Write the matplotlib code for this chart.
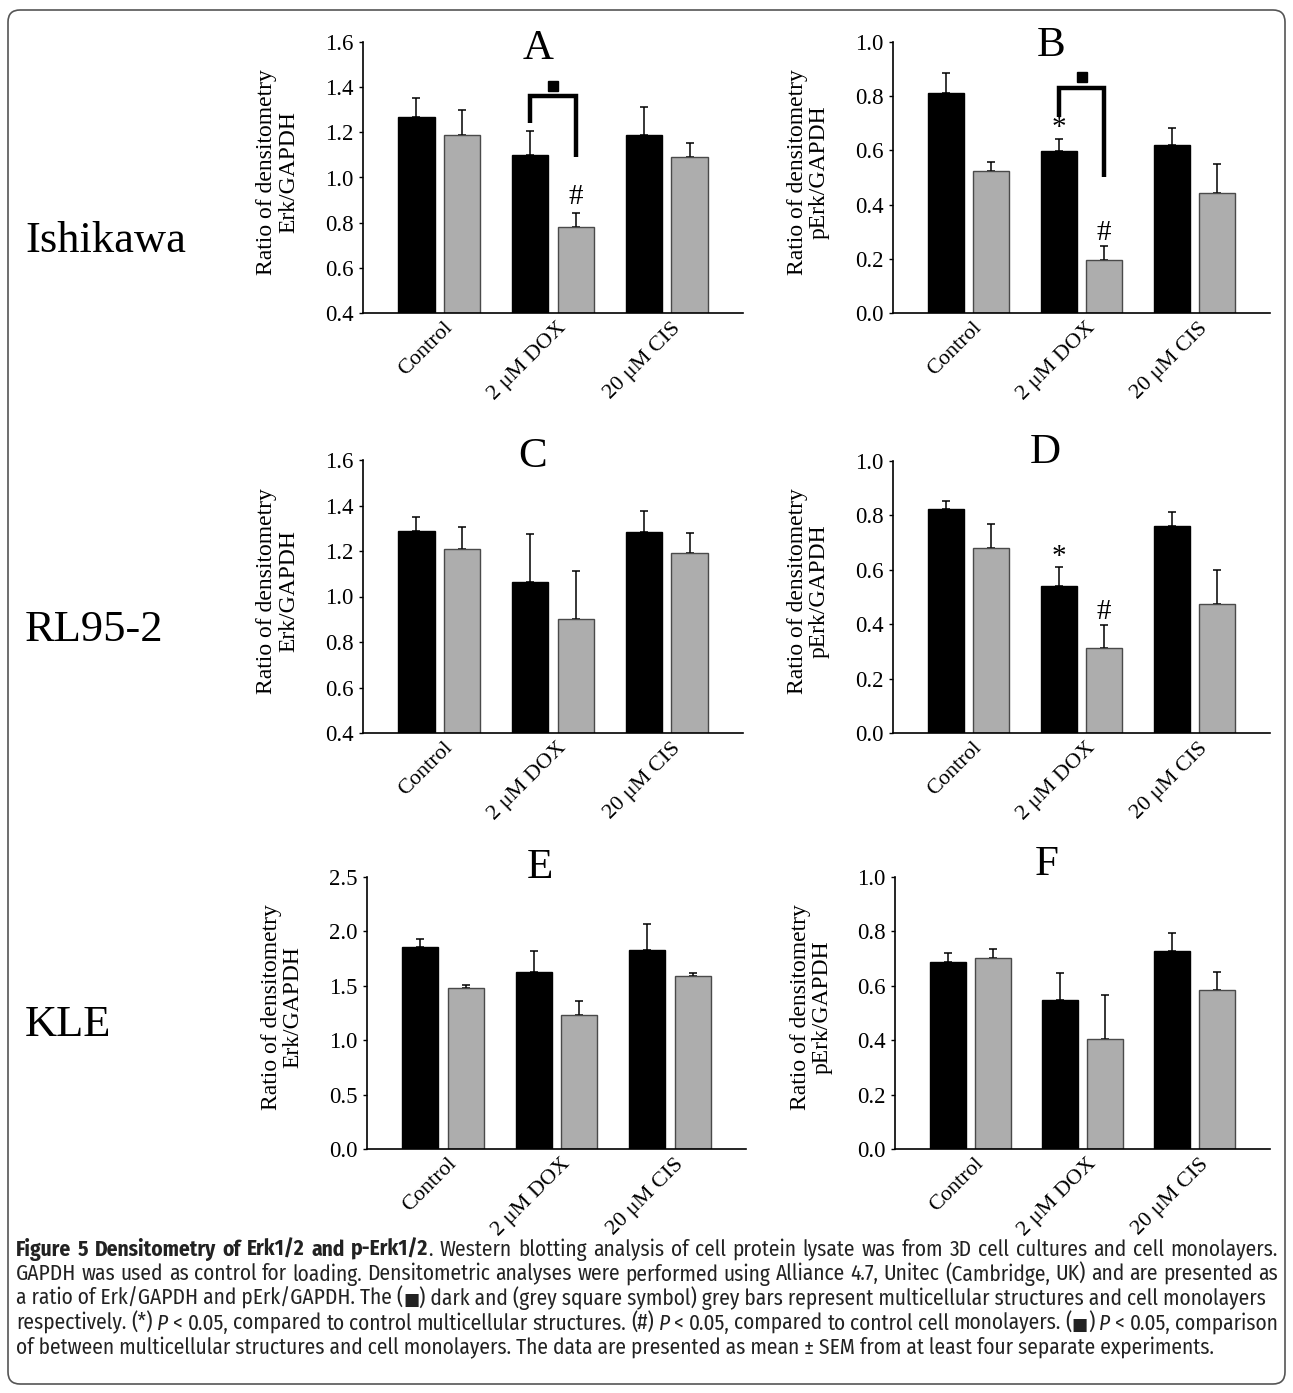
import numpy as np
import matplotlib
matplotlib.use("Agg")
import matplotlib.pyplot as plt
from matplotlib import font_manager
from matplotlib.ft2font import FT2Font
from matplotlib.patches import FancyBboxPatch
from matplotlib.transforms import IdentityTransform, blended_transform_factory, ScaledTranslation
from matplotlib.ticker import FormatStrFormatter

# data (3D = multicellular structures, mono = cell monolayers)
groups = ["Control", "2 \u03bcM DOX", "20 \u03bcM CIS"]
cell_lines = ["Ishikawa", "RL95-2", "KLE"]
panel_letters = ["A", "B", "C", "D", "E", "F"]

erk_ish_3d = [1.27, 1.10, 1.19]
erk_ish_3d_err = [0.083, 0.105, 0.12]
erk_ish_mono = [1.19, 0.78, 1.09]
erk_ish_mono_err = [0.11, 0.064, 0.063]

perk_ish_3d = [0.81, 0.598, 0.621]
perk_ish_3d_err = [0.074, 0.045, 0.063]
perk_ish_mono = [0.525, 0.196, 0.442]
perk_ish_mono_err = [0.031, 0.051, 0.108]

erk_rl_3d = [1.289, 1.065, 1.282]
erk_rl_3d_err = [0.062, 0.208, 0.094]
erk_rl_mono = [1.21, 0.90, 1.19]
erk_rl_mono_err = [0.097, 0.212, 0.088]

perk_rl_3d = [0.824, 0.542, 0.76]
perk_rl_3d_err = [0.03, 0.068, 0.052]
perk_rl_mono = [0.681, 0.314, 0.474]
perk_rl_mono_err = [0.087, 0.084, 0.126]

erk_kle_3d = [1.854, 1.63, 1.829]
erk_kle_3d_err = [0.079, 0.19, 0.236]
erk_kle_mono = [1.477, 1.229, 1.59]
erk_kle_mono_err = [0.03, 0.131, 0.03]

perk_kle_3d = [0.689, 0.549, 0.727]
perk_kle_3d_err = [0.03, 0.099, 0.066]
perk_kle_mono = [0.701, 0.403, 0.583]
perk_kle_mono_err = [0.035, 0.162, 0.067]

# significance marks: (group, series, y, symbol)
marks_A = [(1, 1, 0.912, "#")]
marks_B = [(1, 0, 0.683, "*"), (1, 1, 0.295, "#")]
marks_D = [(1, 0, 0.648, "*"), (1, 1, 0.446, "#")]
# brackets: (left leg bottom, top, right leg bottom, square y)
bracket_A = (1.243, 1.362, 1.09, 1.403)
bracket_B = (0.724, 0.829, 0.503, 0.872)

W, H = 1293, 1393
fig = plt.figure(figsize=(W / 100, H / 100), dpi=100)
fig.patch.set_facecolor("white")

serif = "Liberation Serif"
names = {f.name for f in font_manager.fontManager.ttflist}
cap_font = "Liberation Sans"
for cand in ["Fira Sans Condensed", "Barlow Semi Condensed", "Asap Condensed", "Archivo Narrow"]:
    if cand in names:
        cap_font = cand
        break


def rect(x0, y0, x1, y1):
    return [x0 / W, 1 - y1 / H, (x1 - x0) / W, (y1 - y0) / H]


panels = [
    dict(box=(363, 42, 743, 313), d3=erk_ish_3d, e3=erk_ish_3d_err, dm=erk_ish_mono, em=erk_ish_mono_err,
         ylim=(0.4, 1.6), step=0.2, lab="Erk/GAPDH", tx=0.87, ty=0.975, marks=marks_A, br=bracket_A),
    dict(box=(893, 42, 1270, 313), d3=perk_ish_3d, e3=perk_ish_3d_err, dm=perk_ish_mono, em=perk_ish_mono_err,
         ylim=(0.0, 1.0), step=0.2, lab="pErk/GAPDH", tx=0.73, ty=0.985, marks=marks_B, br=bracket_B),
    dict(box=(363, 460, 743, 733), d3=erk_rl_3d, e3=erk_rl_3d_err, dm=erk_rl_mono, em=erk_rl_mono_err,
         ylim=(0.4, 1.6), step=0.2, lab="Erk/GAPDH", tx=0.82, ty=1.012, marks=[], br=None),
    dict(box=(893, 461, 1270, 733), d3=perk_rl_3d, e3=perk_rl_3d_err, dm=perk_rl_mono, em=perk_rl_mono_err,
         ylim=(0.0, 1.0), step=0.2, lab="pErk/GAPDH", tx=0.68, ty=1.03, marks=marks_D, br=None),
    dict(box=(367, 877, 746, 1149), d3=erk_kle_3d, e3=erk_kle_3d_err, dm=erk_kle_mono, em=erk_kle_mono_err,
         ylim=(0.0, 2.5), step=0.5, lab="Erk/GAPDH", tx=0.85, ty=1.033, marks=[], br=None),
    dict(box=(895, 877, 1270, 1149), d3=perk_kle_3d, e3=perk_kle_3d_err, dm=perk_kle_mono, em=perk_kle_mono_err,
         ylim=(0.0, 1.0), step=0.2, lab="pErk/GAPDH", tx=0.68, ty=1.044, marks=[], br=None),
]

x = np.arange(len(groups))
bw = 0.32
off = 0.2
grey = "#adadad"

for p, letter in zip(panels, panel_letters):
    ax = fig.add_axes(rect(*p["box"]))
    ax.bar(x - off, p["d3"], bw, color="black", edgecolor="black", linewidth=1, zorder=2)
    ax.bar(x + off, p["dm"], bw, color=grey, edgecolor="#4a4a4a", linewidth=1, zorder=2)
    ax.errorbar(x - off, p["d3"], yerr=[np.zeros(3), p["e3"]], fmt="none", ecolor="black",
                elinewidth=1.1, capsize=3, capthick=1.1, zorder=1)
    ax.errorbar(x + off, p["dm"], yerr=[np.zeros(3), p["em"]], fmt="none", ecolor="black",
                elinewidth=1.1, capsize=3, capthick=1.1, zorder=1)
    ax.set_xlim(-0.67, 2.67)
    lo, hi = p["ylim"]
    ax.set_ylim(lo, hi)
    ax.set_yticks(np.arange(lo, hi + 1e-9, p["step"]))
    ax.yaxis.set_major_formatter(FormatStrFormatter("%.1f"))
    for s in ["top", "right"]:
        ax.spines[s].set_visible(False)
    for s in ["left", "bottom"]:
        ax.spines[s].set_linewidth(1.2)
    ax.tick_params(axis="y", direction="out", length=3, width=1, pad=4, labelsize=16.5)
    ax.tick_params(axis="x", length=0, pad=4, labelsize=16)
    ax.set_xticks(x)
    ax.set_xticklabels(groups, rotation=45, ha="right", rotation_mode="anchor", family=serif)
    shift = ScaledTranslation(4 / 100, 0, fig.dpi_scale_trans)
    for t in ax.get_xticklabels():
        t.set_transform(t.get_transform() + shift)
    for t in ax.get_yticklabels():
        t.set_family(serif)
    ax.text(-0.224, 0.52, "Ratio of densitometry\n" + p["lab"], transform=ax.transAxes,
            rotation=90, ha="center", va="center", fontsize=17, family=serif, linespacing=1.05)
    trans = blended_transform_factory(ax.transData, ax.transAxes)
    ax.text(p["tx"], p["ty"], letter, transform=trans, ha="center", va="center",
            fontsize=31, family=serif, clip_on=False)
    for gi, si, yy, sym in p["marks"]:
        xx = gi - off if si == 0 else gi + off
        ax.text(xx, yy, sym, ha="center", va="center", fontsize=21, family=serif)
    if p["br"] is not None:
        yl, yt, yr, ys = p["br"]
        ax.plot([1 - off, 1 - off, 1 + off, 1 + off], [yl, yt, yt, yr], color="black",
                lw=3.2, solid_joinstyle="miter", solid_capstyle="butt", clip_on=False)
        ax.plot([1.0], [ys], marker="s", markersize=7, color="black", clip_on=False)

# cell line labels on the left
for name, yb in zip(cell_lines, [252, 641, 1036]):
    fig.text(25 / W, 1 - yb / H, name, ha="left", va="baseline", fontsize=32, family=serif)

# rounded border of the figure
border = FancyBboxPatch((8, H - 1384), W - 16, 1374, boxstyle="round,pad=0,rounding_size=12",
                        transform=IdentityTransform(), facecolor="none", edgecolor="#555555", linewidth=1.2)
fig.add_artist(border)

# caption
SQ = "\u25a0"
cap_lines = [
    ([("Figure 5 Densitometry of Erk1/2 and p-Erk1/2", "bold"),
      (". Western blotting analysis of cell protein lysate was from 3D cell cultures and cell monolayers.", "normal")], True),
    ([("GAPDH was used as control for loading. Densitometric analyses were performed using Alliance 4.7, "
       "Unitec (Cambridge, UK) and are presented as", "normal")], True),
    ([("a ratio of Erk/GAPDH and pErk/GAPDH. The (", "normal"), (SQ, "sym"),
      (") dark and (grey square symbol) grey bars represent multicellular structures and cell monolayers", "normal")], False),
    ([("respectively. (*) ", "normal"), ("P", "italic"),
      (" < 0.05, compared to control multicellular structures. (#) ", "normal"), ("P", "italic"),
      (" < 0.05, compared to control cell monolayers. (", "normal"), (SQ, "sym"), (") ", "normal"),
      ("P", "italic"), (" < 0.05, comparison", "normal")], True),
    ([("of between multicellular structures and cell monolayers. The data are presented as mean \u00b1 SEM "
       "from at least four separate experiments.", "normal")], False),
]
cap_base = [1256, 1280.5, 1305, 1329.5, 1354]
cap_x0, cap_x1 = 16, 1278

renderer = fig.canvas.get_renderer()

# narrowest available space character, used to pad spaces in justified lines
PAD = None
try:
    ft = FT2Font(font_manager.findfont(font_manager.FontProperties(family=cap_font)))
    for ch in ["\u200a", "\u2009", "\u2006", "\u2005", "\u2008"]:
        if ft.get_char_index(ord(ch)) != 0:
            PAD = ch
            break
except Exception:
    PAD = None


def style_kw(style, size):
    kw = dict(fontsize=size, family=cap_font, color="#222222")
    if style == "bold":
        kw["fontweight"] = "bold"
    if style == "italic":
        kw["fontstyle"] = "italic"
    if style == "sym":
        kw["family"] = "DejaVu Sans"
        kw["fontsize"] = size * 0.8
    return kw


def width_of(s, style, size):
    t = fig.text(0, 0, s, **style_kw(style, size))
    w = t.get_window_extent(renderer).width
    t.remove()
    return w


def split_words(runs):
    words = []
    new_word = True
    for text, style in runs:
        parts = text.split(" ")
        for i, part in enumerate(parts):
            if i > 0:
                new_word = True
            if part == "":
                continue
            if new_word or not words:
                words.append([(part, style)])
                new_word = False
            else:
                words[-1].append((part, style))
    return words


# caption size chosen so that the second line fills the width
base = 10.0
w2 = sum(width_of(pc, st, base) for wd in split_words(cap_lines[1][0]) for pc, st in wd)
sp2 = width_of("x x", "normal", base) - width_of("xx", "normal", base)
n2 = len(split_words(cap_lines[1][0]))
cap_size = base * (cap_x1 - cap_x0) / (w2 + sp2 * (n2 - 1)) * 0.995
space = width_of("x x", "normal", cap_size) - width_of("xx", "normal", cap_size)
pad_w = 0.0
if PAD is not None:
    pad_w = (width_of("x" + PAD * 10 + "x", "normal", cap_size) - width_of("xx", "normal", cap_size)) / 10
    if pad_w <= 0.2 or pad_w > space:
        PAD = None
        pad_w = 0.0

for (runs, justify), yy in zip(cap_lines, cap_base):
    words = split_words(runs)
    widths = [[width_of(pc, st, cap_size) for pc, st in wd] for wd in words]
    total = sum(sum(w) for w in widths)
    gap = space
    if justify and len(words) > 1:
        gap = (cap_x1 - cap_x0 - total) / (len(words) - 1)
    can_join = (not justify) or PAD is not None
    # segments of one style; spaces inside a segment are padded when justifying
    segs = []  # [style, text, x]
    xx = cap_x0
    owed = 0.0
    for wi, (wd, ws) in enumerate(zip(words, widths)):
        for pi, ((pc, st), w) in enumerate(zip(wd, ws)):
            boundary = wi > 0 and pi == 0
            if segs and segs[-1][0] == st and st != "sym" and (not boundary or can_join):
                if boundary:
                    n = 0
                    if justify and pad_w > 0:
                        owed += gap - space
                        n = max(0, int(round(owed / pad_w)))
                        owed -= n * pad_w
                    segs[-1][1] += " " + PAD * n if n else " "
                segs[-1][1] += pc
            else:
                segs.append([st, pc, xx])
            xx += w
        xx += gap
    for st, txt, sx in segs:
        fig.text(sx / W, 1 - yy / H, txt, ha="left", va="baseline", **style_kw(st, cap_size))

fig.savefig("out.png", dpi=100, facecolor="white")
